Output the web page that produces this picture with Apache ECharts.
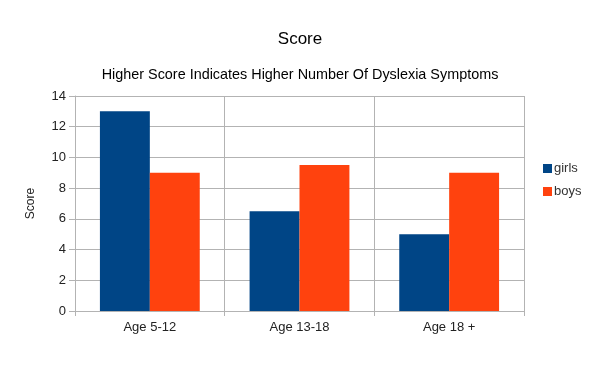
<!DOCTYPE html>
<html><head><meta charset="utf-8">
<script src="https://cdn.jsdelivr.net/npm/echarts@6/dist/echarts.min.js"></script>
<style>html,body{margin:0;padding:0;background:#fff}#c{width:600px;height:376px}</style>
</head><body><div id="c"></div>
<script>
const categories = ['Age 5-12', 'Age 13-18', 'Age 18 +'];
const girls = [13, 6.5, 5];
const boys = [9, 9.5, 9];
const seriesNames = ['girls', 'boys'];

const chart = echarts.init(document.getElementById('c'), null, {renderer: 'canvas'});
const font = 'Liberation Sans, Arial, sans-serif';
chart.setOption({
  animation: false,
  textStyle: {fontFamily: font},
  title: [
    {text: 'Score', left: 'center', top: 26, textStyle: {fontSize: 17, fontWeight: 'normal', color: '#000', fontFamily: font}},
    {text: 'Higher Score Indicates Higher Number Of Dyslexia Symptoms', left: 'center', top: 63, textStyle: {fontSize: 14.4, fontWeight: 'normal', color: '#000', fontFamily: font}}
  ],
  legend: {
    orient: 'vertical', left: 538, top: 157, itemWidth: 9, itemHeight: 9, itemGap: 10,
    icon: 'rect',
    textStyle: {fontSize: 13, color: '#333', fontFamily: font, padding: [0,0,0,-3]},
    data: seriesNames
  },
  grid: {left: 75, right: 76, top: 96, bottom: 65, containLabel: false},
  xAxis: {
    type: 'category', data: categories,
    axisLine: {lineStyle: {color: '#b3b3b3'}},
    axisTick: {show: true, length: 5, lineStyle: {color: '#b3b3b3'}},
    axisLabel: {fontSize: 13, color: '#222', margin: 10, fontFamily: font},
    splitLine: {show: true, lineStyle: {color: '#b3b3b3'}}
  },
  yAxis: {
    type: 'value', min: 0, max: 14, interval: 2,
    name: 'Score', nameLocation: 'middle', nameGap: 38, nameRotate: 90,
    nameTextStyle: {fontSize: 12, color: '#222', fontFamily: font},
    axisLine: {show: true, lineStyle: {color: '#b3b3b3'}},
    axisTick: {show: true, length: 6, lineStyle: {color: '#b3b3b3'}},
    axisLabel: {fontSize: 13, color: '#222', margin: 9, fontFamily: font},
    splitLine: {show: true, lineStyle: {color: '#b3b3b3'}}
  },
  series: [
    {name: seriesNames[0], type: 'bar', data: girls, itemStyle: {color: '#004586'}, barGap: '0%', barCategoryGap: '33.3%'},
    {name: seriesNames[1], type: 'bar', data: boys, itemStyle: {color: '#ff420e'}, barGap: '0%', barCategoryGap: '33.3%'}
  ]
});
</script></body></html>
